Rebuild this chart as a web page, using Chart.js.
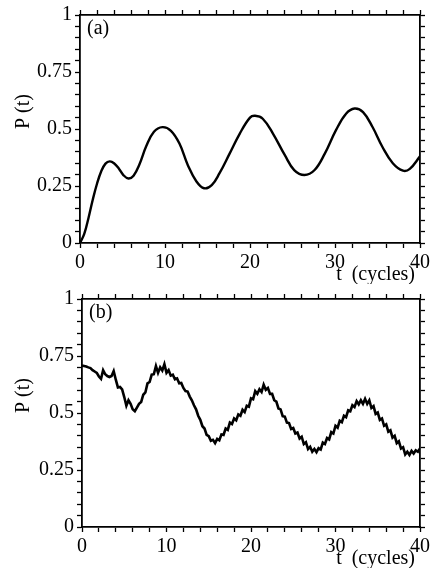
<!DOCTYPE html>
<html>
<head>
<meta charset="utf-8">
<script src="https://cdn.jsdelivr.net/npm/chart.js@4.4.1/dist/chart.umd.min.js"></script>
<style>
  html, body { margin: 0; padding: 0; background: #fff; }
  .panel { position: absolute; left: 0; width: 433px; height: 284px; }
</style>
</head>
<body>
<div class="panel" style="top:0"><canvas id="chartA" width="433" height="284"></canvas></div>
<div class="panel" style="top:284px"><canvas id="chartB" width="433" height="284"></canvas></div>
<script>
// ---------- data ----------
const tA = [0, 0.5, 1, 1.5, 2, 2.5, 3, 3.5, 4, 4.6, 5.1, 5.7, 6.3, 7.0, 7.8, 8.7, 9.7, 10.7, 11.7, 12.7,
  13.7, 14.6, 15.5, 16.4, 17.6, 18.8, 20.0, 20.6, 21.5, 22.7, 24.1, 25.2, 26.4, 27.6, 28.8, 30.1, 31.3,
  32.3, 33.3, 34.4, 35.6, 36.8, 38.0, 38.8, 40];
const pA = [0, 0.04, 0.11, 0.19, 0.26, 0.315, 0.348, 0.358, 0.35, 0.325, 0.298, 0.283, 0.295, 0.345, 0.425, 0.488, 0.508,
  0.492, 0.436, 0.34, 0.27, 0.24, 0.254, 0.305, 0.392, 0.48, 0.55, 0.558, 0.545, 0.48, 0.385, 0.32, 0.298,
  0.32, 0.392, 0.494, 0.567, 0.59, 0.574, 0.51, 0.42, 0.35, 0.317, 0.325, 0.38];

const tB = [0, 0.25, 0.5, 0.75, 1, 1.25, 1.5, 1.75, 2, 2.25, 2.5, 2.75, 3, 3.25, 3.5, 3.75, 4, 4.25, 4.5, 4.75,
  5, 5.25, 5.5, 5.75, 6, 6.25, 6.5, 6.75, 7, 7.25, 7.5, 7.75, 8, 8.25, 8.5, 8.75, 9, 9.25, 9.5, 9.75,
  10, 10.25, 10.5, 10.75, 11, 11.25, 11.5, 11.75, 12, 12.25, 12.5, 12.75, 13, 13.25, 13.5, 13.75, 14, 14.25, 14.5, 14.75,
  15, 15.25, 15.5, 15.75, 16, 16.25, 16.5, 16.75, 17, 17.25, 17.5, 17.75, 18, 18.25, 18.5, 18.75, 19, 19.25, 19.5, 19.75,
  20, 20.25, 20.5, 20.75, 21, 21.25, 21.5, 21.75, 22, 22.25, 22.5, 22.75, 23, 23.25, 23.5, 23.75, 24, 24.25, 24.5, 24.75,
  25, 25.25, 25.5, 25.75, 26, 26.25, 26.5, 26.75, 27, 27.25, 27.5, 27.75, 28, 28.25, 28.5, 28.75, 29, 29.25, 29.5, 29.75,
  30, 30.25, 30.5, 30.75, 31, 31.25, 31.5, 31.75, 32, 32.25, 32.5, 32.75, 33, 33.25, 33.5, 33.75, 34, 34.25, 34.5, 34.75,
  35, 35.25, 35.5, 35.75, 36, 36.25, 36.5, 36.75, 37, 37.25, 37.5, 37.75, 38, 38.25, 38.5, 38.75, 39, 39.25, 39.5, 39.75,
  40];
const pB = [0.708, 0.706, 0.704, 0.700, 0.697, 0.688, 0.682, 0.676, 0.660, 0.650, 0.688, 0.670, 0.662, 0.658, 0.662, 0.684, 0.646, 0.612, 0.614, 0.604,
  0.570, 0.532, 0.556, 0.540, 0.516, 0.508, 0.524, 0.540, 0.548, 0.580, 0.590, 0.630, 0.636, 0.668, 0.670, 0.706, 0.676, 0.700, 0.686, 0.714,
  0.676, 0.688, 0.664, 0.668, 0.648, 0.652, 0.630, 0.632, 0.610, 0.596, 0.594, 0.572, 0.556, 0.534, 0.516, 0.488, 0.470, 0.442, 0.432, 0.404,
  0.398, 0.378, 0.382, 0.368, 0.386, 0.380, 0.406, 0.404, 0.432, 0.426, 0.458, 0.452, 0.476, 0.468, 0.494, 0.488, 0.514, 0.504, 0.532, 0.528,
  0.564, 0.560, 0.596, 0.584, 0.604, 0.592, 0.624, 0.602, 0.610, 0.584, 0.584, 0.556, 0.550, 0.520, 0.516, 0.486, 0.484, 0.458, 0.456, 0.430,
  0.434, 0.410, 0.414, 0.388, 0.396, 0.364, 0.372, 0.342, 0.352, 0.330, 0.342, 0.328, 0.346, 0.340, 0.370, 0.364, 0.390, 0.384, 0.416, 0.410,
  0.444, 0.436, 0.466, 0.460, 0.488, 0.482, 0.512, 0.508, 0.534, 0.526, 0.552, 0.538, 0.556, 0.540, 0.562, 0.540, 0.556, 0.522, 0.530, 0.496,
  0.502, 0.470, 0.476, 0.444, 0.450, 0.418, 0.424, 0.392, 0.400, 0.368, 0.376, 0.344, 0.350, 0.318, 0.330, 0.316, 0.334, 0.322, 0.336, 0.330,
  0.344];

const xMajor = [0, 10, 20, 30, 40];
const yMajor = [0, 0.25, 0.5, 0.75, 1];
const xTitle = "t  (cycles)";
const yTitle = "P (t)";

// ---------- helpers ----------
const FONT = "'Liberation Serif', 'Times New Roman', serif";
const FSIZE = 20;

const panelLabel = {
  id: "panelLabel",
  afterDraw(chart, args, opts) {
    const c = chart.ctx;
    c.save();
    c.font = FSIZE + "px " + FONT;
    c.fillStyle = "#000";
    c.textBaseline = "top";
    c.fillText(opts.text, chart.chartArea.left + 7, chart.chartArea.top + 4);
    c.restore();
  },
};

function isMajor(list, v) {
  return list.some((m) => Math.abs(m - v) < 1e-6);
}

function makeChart(id, xs, ys, label, box, smooth) {
  const tickGrid = {
    drawOnChartArea: false,
    drawTicks: true,
    tickLength: 5,
    color: "#000",
    tickColor: "#000",
    tickWidth: 1.3,
  };
  const border = { display: true, color: "#000", width: 1.8 };
  const fixW = (w) => (s) => { s.width = w; };
  const fixH = (h) => (s) => { s.height = h; };

  return new Chart(document.getElementById(id), {
    type: "line",
    data: {
      datasets: [{
        data: xs.map((x, i) => ({ x, y: ys[i] })),
        borderColor: "#000",
        borderWidth: smooth ? 2.4 : 2.6,
        pointRadius: 0,
        tension: smooth ? 0.4 : 0,
        fill: false,
      }],
    },
    options: {
      responsive: false,
      animation: false,
      layout: { padding: 0 },
      plugins: {
        legend: { display: false },
        tooltip: { enabled: false },
        panelLabel: { text: label },
      },
      scales: {
        x: {
          type: "linear", position: "bottom", min: 0, max: 40,
          afterFit: fixH(box.bottom),
          grid: tickGrid, border,
          ticks: {
            stepSize: 2, padding: 3, color: "#000", maxRotation: 0, autoSkip: false,
            font: { family: FONT, size: FSIZE },
            callback: (v) => (isMajor(xMajor, v) ? String(v) : ""),
          },
          title: {
            display: true, text: xTitle + " ", align: "end", color: "#000",
            font: { family: FONT, size: FSIZE }, padding: { top: 0, bottom: -3 },
          },
        },
        x2: {
          type: "linear", position: "top", min: 0, max: 40,
          afterFit: fixH(box.top),
          grid: tickGrid, border,
          ticks: { stepSize: 2, display: false },
        },
        y: {
          type: "linear", position: "left", min: 0, max: 1,
          afterFit: fixW(box.left),
          grid: tickGrid, border,
          ticks: {
            stepSize: 0.05, padding: 3, color: "#000", autoSkip: false,
            font: { family: FONT, size: FSIZE },
            callback: (v) => (isMajor(yMajor, v) ? String(Math.round(v * 100) / 100) : ""),
          },
          title: {
            display: true, text: "       " + yTitle, color: "#000",
            font: { family: FONT, size: FSIZE }, padding: { top: 12, bottom: 0 },
          },
        },
        y2: {
          type: "linear", position: "right", min: 0, max: 1,
          afterFit: fixW(box.right),
          grid: tickGrid, border,
          ticks: { stepSize: 0.05, display: false },
        },
      },
    },
    plugins: [panelLabel],
  });
}

makeChart("chartA", tA, pA, "(a)", { left: 80, right: 12, top: 14, bottom: 41 }, true);
makeChart("chartB", tB, pB, "(b)", { left: 82, right: 10, top: 13, bottom: 41 }, false);
</script>
</body>
</html>
